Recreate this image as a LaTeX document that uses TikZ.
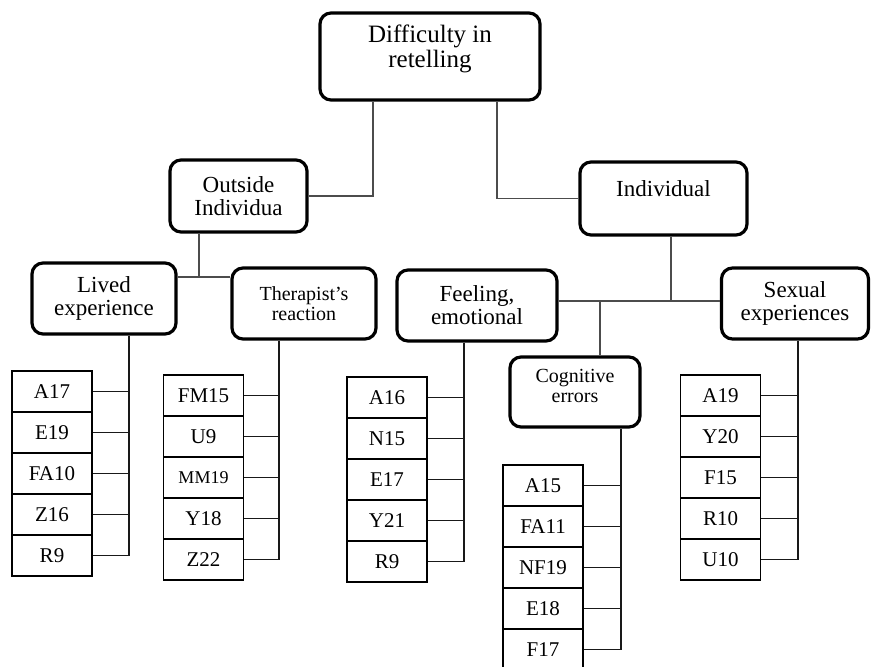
\documentclass[tikz,border=0pt]{standalone}
\usepackage{fontspec}
\setmainfont{Liberation Serif}
\begin{document}
\begin{tikzpicture}[x=1pt, y=-1pt, every node/.style={align=center}]
  % Define styles
  \tikzset{
    catbox/.style={draw, line width=3.2pt, rounded corners=11pt, inner sep=2pt,
      font=\fontsize{23}{23}\selectfont},
    smallcat/.style={catbox, font=\fontsize{20}{20}\selectfont},
    leafbox/.style={draw, line width=1.3pt, minimum width=80pt, minimum height=41pt,
      inner sep=0pt, font=\fontsize{21}{21}\selectfont},
    upper/.style={draw=black!70, line width=1.6pt},
    trunk/.style={draw=black!90, line width=1.6pt}
  }
  \useasboundingbox (0,0) rectangle (874,666);

  % Top level
  \node[catbox, font=\fontsize{25}{25}\selectfont, minimum width=220, minimum height=87,
    text depth=20pt] (root) at (430,56.5) {Difficulty in\\ retelling};

  % Second level
  \node[catbox, minimum width=137, minimum height=72] (outside) at (238.5,196) {Outside\\ Individua};
  \node[catbox, minimum width=167, minimum height=73, text depth=20pt] (indiv) at (663.5,198.5) {Individual};

  \draw[upper] ([xshift=-57pt]root.south) |- (outside.east);
  \draw[upper] ([xshift=67pt]root.south) |- (indiv.west);

  % Third level
  \node[catbox, minimum width=144, minimum height=71] (lived) at (104,298.5) {Lived\\ experience};
  \node[smallcat, minimum width=144, minimum height=71] (therapist) at (304,303.5) {Therapist's\\ reaction};
  \node[catbox, minimum width=160, minimum height=71] (feeling) at (477,305.5) {Feeling,\\ emotional};
  \node[smallcat, minimum width=130, minimum height=70, text depth=12pt] (cognitive) at (575,392) {Cognitive\\ errors};
  \node[catbox, minimum width=147, minimum height=71] (sexual) at (795,303.5) {Sexual\\ experiences};

  \coordinate (outj) at (199,277);
  \coordinate (indj) at (671,301);
  \coordinate (cogj) at (600,301);
  \draw[upper] (outside.south -| outj) -- (outj);
  \draw[upper] (lived.east |- outj) -- (therapist.west |- outj);
  \draw[upper] (indiv.south -| indj) -- (indj);
  \draw[upper] (feeling.east |- indj) -- (sexual.west |- indj);
  \draw[upper] (cogj) -- (cognitive.north -| cogj);

  % Participant codes
  \coordinate (lvt) at (129,0);
  \coordinate (tht) at (279,0);
  \coordinate (fet) at (464,0);
  \coordinate (cot) at (621,0);
  \coordinate (set) at (798,0);

  \foreach \t [count=\i] in {A17,E19,FA10,Z16,R9} {
    \node[leafbox] (lv\i) at (52,{350.5+41*\i}) {\t};
    \draw[trunk] (lv\i.east) -- (lv\i.east -| lvt);
  }
  \draw[trunk] (lived.south -| lvt) -- (lv5.east -| lvt);

  \foreach \t [count=\i] in {FM15,U9,{\fontsize{18}{18}\selectfont MM19},Y18,Z22} {
    \node[leafbox] (th\i) at (203.5,{354.5+41*\i}) {\t};
    \draw[trunk] (th\i.east) -- (th\i.east -| tht);
  }
  \draw[trunk] (therapist.south -| tht) -- (th5.east -| tht);

  \foreach \t [count=\i] in {A16,N15,E17,Y21,R9} {
    \node[leafbox] (fe\i) at (387,{356.5+41*\i}) {\t};
    \draw[trunk] (fe\i.east) -- (fe\i.east -| fet);
  }
  \draw[trunk] (feeling.south -| fet) -- (fe5.east -| fet);

  \foreach \t [count=\i] in {A15,FA11,NF19,E18,F17} {
    \node[leafbox] (co\i) at (543,{444.5+41*\i}) {\t};
    \draw[trunk] (co\i.east) -- (co\i.east -| cot);
  }
  \draw[trunk] (cognitive.south -| cot) -- (co5.east -| cot);

  \foreach \t [count=\i] in {A19,Y20,F15,R10,U10} {
    \node[leafbox] (se\i) at (720.5,{354.5+41*\i}) {\t};
    \draw[trunk] (se\i.east) -- (se\i.east -| set);
  }
  \draw[trunk] (sexual.south -| set) -- (se5.east -| set);
\end{tikzpicture}
\end{document}
